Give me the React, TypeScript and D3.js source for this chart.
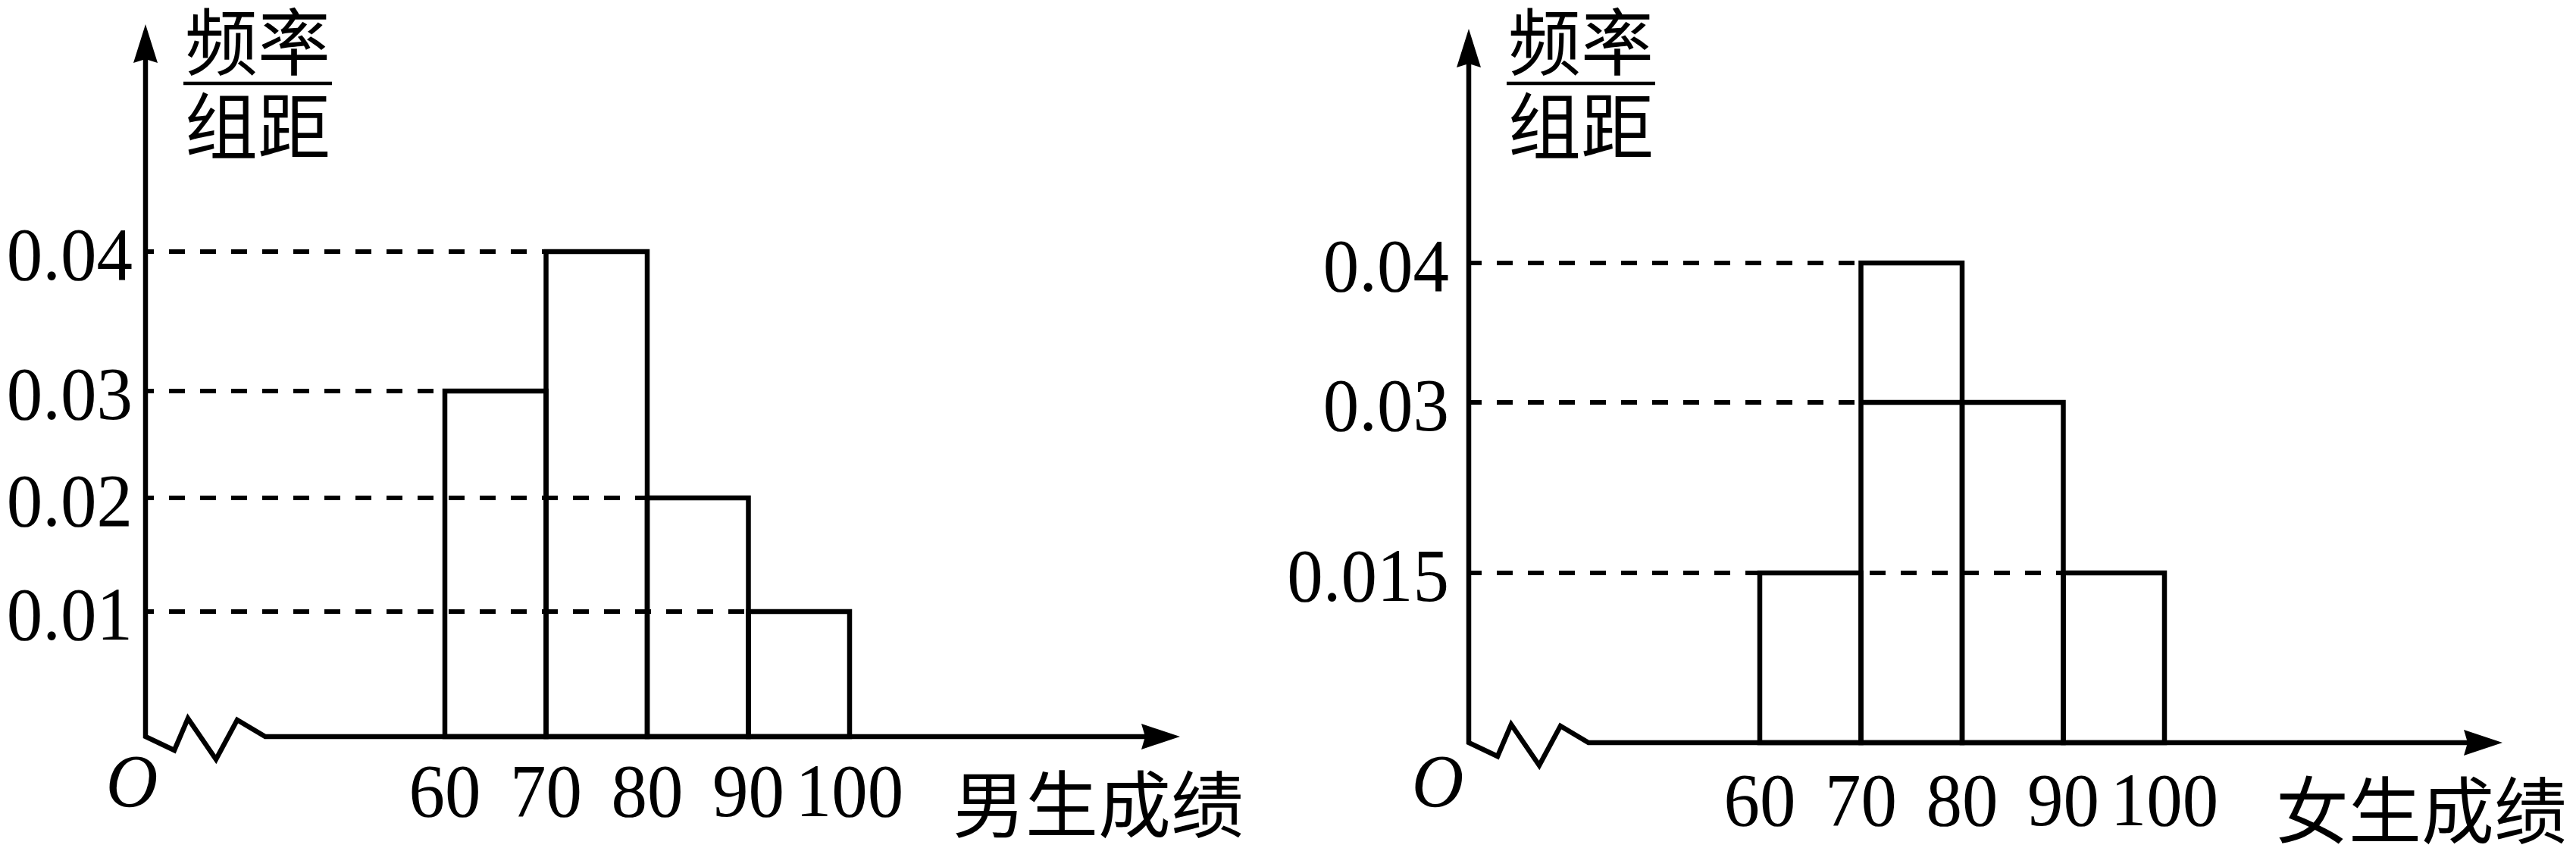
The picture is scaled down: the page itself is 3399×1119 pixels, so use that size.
import React from "react";
import * as d3 from "d3";

// histogram data (组距 = 10)
const binEdges = [60, 70, 80, 90, 100];
const xLabels = ["60", "70", "80", "90", "100"];
const boyValues = [0.03, 0.04, 0.02, 0.01];
const girlValues = [0.015, 0.04, 0.03, 0.015];

const boyTicks = [0.01, 0.02, 0.03, 0.04];
const boyTickLabels = ["0.01", "0.02", "0.03", "0.04"];
const boyGuideEnds = [90, 80, 60, 70];

const girlTicks = [0.015, 0.03, 0.04];
const girlTickLabels = ["0.015", "0.03", "0.04"];
const girlGuideEnds = [90, 70, 70];

const serif = "'Liberation Serif', 'Times New Roman', serif";
const cjk = "'Noto Sans CJK SC', sans-serif";

// figure is not drawn to scale, so y uses a piecewise scale through the tick marks
const charts = [
  {
    values: boyValues, ticks: boyTicks, tickLabels: boyTickLabels, guideEnds: boyGuideEnds,
    title: "男生成绩",
    ox: 192, oy: 972, tipY: 32, tipX: 1557,
    xRange: [587, 1121], yRange: [972, 807, 657, 516, 332],
    tickEnd: 175, oLabelX: 174, labelDy: 105, dashOffset: 10, titleX: 1257, titleY: 1097,
  },
  {
    values: girlValues, ticks: girlTicks, tickLabels: girlTickLabels, guideEnds: girlGuideEnds,
    title: "女生成绩",
    ox: 1938, oy: 980, tipY: 38, tipX: 3302,
    xRange: [2322, 2856], yRange: [980, 756, 531, 347],
    tickEnd: 1912, oLabelX: 1897, labelDy: 109, dashOffset: 4, titleX: 3003, titleY: 1105,
  },
];

const zigzag = [[0, 0], [38, 18], [56, -24], [93, 30], [121, -22], [158, 0]];

const Histogram = ({ c }) => {
  const x = d3.scaleLinear().domain([60, 100]).range(c.xRange);
  const y = d3.scaleLinear().domain([0, ...c.ticks]).range(c.yRange);
  const bins = c.values.map((v, i) => ({ x0: binEdges[i], x1: binEdges[i + 1], v }));

  const axisPts = [
    [c.ox, c.tipY + 46],
    ...zigzag.map(([dx, dy]) => [c.ox + dx, c.oy + dy]),
    [c.tipX - 46, c.oy],
  ];
  const axisPath = d3.line()(axisPts);
  const yArrow = `M${c.ox},${c.tipY} L${c.ox + 16},${c.tipY + 51} L${c.ox},${c.tipY + 46} L${c.ox - 16},${c.tipY + 51} Z`;
  const xArrow = `M${c.tipX},${c.oy} L${c.tipX - 51},${c.oy - 17} L${c.tipX - 46},${c.oy} L${c.tipX - 51},${c.oy + 17} Z`;

  const cx = c.ox + 148;
  const squeeze = (tx, ty) => `translate(${tx},${ty}) scale(0.95,1)`;

  return (
    <g>
      {/* dashed guide lines */}
      {c.ticks.map((t, i) => {
        const end = c.guideEnds[i];
        const bar = bins.find((b) => b.v === t && b.x0 >= end);
        return (
          <g key={"g" + i}>
            <line x1={c.ox} x2={x(end)} y1={y(t)} y2={y(t)} stroke="#000" strokeWidth={6}
              strokeDasharray="21 20" strokeDashoffset={c.dashOffset} />
            {bar && bar.x0 > end && (
              <line x1={x(end)} x2={x(bar.x0)} y1={y(t)} y2={y(t)} stroke="#000" strokeWidth={6.5} />
            )}
          </g>
        );
      })}

      {/* bars */}
      {bins.map((b, i) => (
        <rect key={"b" + i} x={x(b.x0)} y={y(b.v)} width={x(b.x1) - x(b.x0)} height={y(0) - y(b.v)}
          fill="none" stroke="#000" strokeWidth={6.5} />
      ))}

      {/* axes */}
      <path d={axisPath} fill="none" stroke="#000" strokeWidth={6.5} strokeLinejoin="miter" />
      <path d={yArrow} fill="#000" />
      <path d={xArrow} fill="#000" />

      {/* y tick labels */}
      {c.ticks.map((t, i) => (
        <text key={"t" + i} transform={squeeze(c.tickEnd, y(t) + 37)} textAnchor="end"
          fontFamily={serif} fontSize={100}>{c.tickLabels[i]}</text>
      ))}

      {/* x tick labels */}
      {binEdges.map((v, i) => (
        <text key={"x" + i} transform={squeeze(x(v), c.oy + c.labelDy)} textAnchor="middle"
          fontFamily={serif} fontSize={100}>{xLabels[i]}</text>
      ))}

      <text transform={squeeze(c.oLabelX, 1064)} textAnchor="middle" fontFamily={serif}
        fontStyle="italic" fontSize={100}>O</text>

      {/* 频率/组距 */}
      <text x={cx} y={91} textAnchor="middle" fontFamily={cjk} fontSize={96}>频率</text>
      <line x1={cx - 98} x2={cx + 98} y1={110} y2={110} stroke="#000" strokeWidth={4.5} />
      <text x={cx} y={202} textAnchor="middle" fontFamily={cjk} fontSize={96}>组距</text>

      <text x={c.titleX} y={c.titleY} fontFamily={cjk} fontSize={96}>{c.title}</text>
    </g>
  );
};

export default function App() {
  return (
    <svg width={3399} height={1119} style={{ position: "absolute", left: 0, top: 0, background: "#fff" }}>
      <rect width={3399} height={1119} fill="#fff" />
      {charts.map((c, i) => (
        <Histogram key={i} c={c} />
      ))}
    </svg>
  );
}
